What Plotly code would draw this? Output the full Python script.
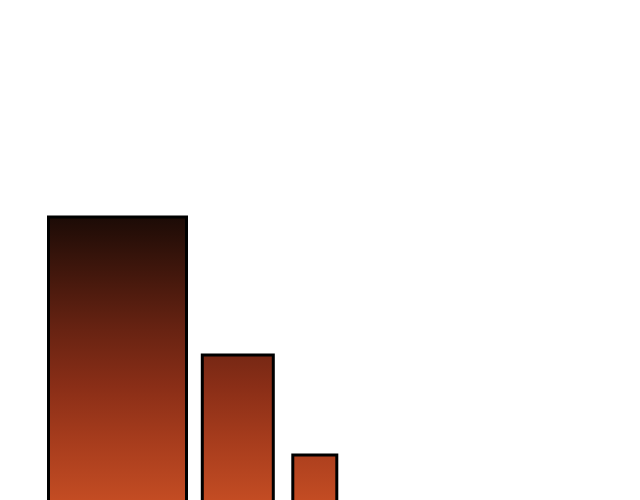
import plotly.graph_objects as go

categories = ["A", "B", "C"]
values = [303, 165, 65]
widths = [138, 71, 44]
centers = [117.5, 237.8, 314.8]

grad_scale = [
    [0.0, "#c34c23"],
    [0.2, "#a83d1d"],
    [0.4, "#8a2e17"],
    [0.6, "#682312"],
    [0.8, "#42170c"],
    [1.0, "#1c0b06"],
]

fig = go.Figure()
y_bottom = 20
for cat, v, w, c in zip(categories, values, widths, centers):
    x0, x1 = c - w / 2, c + w / 2
    fig.add_trace(go.Scatter(
        x=[x0, x0, x1, x1, x0],
        y=[0, v, v, 0, 0],
        mode="lines",
        fill="toself",
        fillgradient=dict(type="vertical", colorscale=grad_scale,
                          start=y_bottom, stop=max(values)),
        line=dict(color="black", width=3),
        name=cat,
        hoverinfo="name",
        showlegend=False,
    ))

fig.update_layout(
    width=640, height=500,
    margin=dict(l=0, r=0, t=0, b=0),
    paper_bgcolor="white", plot_bgcolor="white",
    xaxis=dict(range=[8, 648], visible=False),
    yaxis=dict(range=[12, 512], visible=False),
)
fig.write_html("out.html")
